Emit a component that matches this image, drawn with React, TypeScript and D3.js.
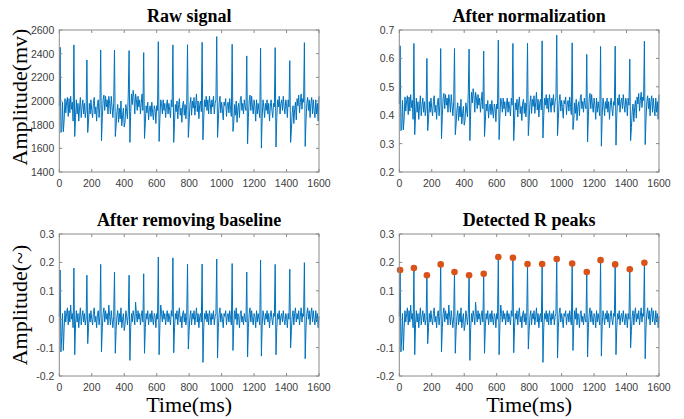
import React from 'react';
import * as d3 from 'd3';

// sample spacing of the traces, ms
const sampleStep = 5;

// raw ECG trace (mv), one value every 5 ms from 0 to 1600
const rawSignal = [
  1960, 2454, 1734, 1750, 1990, 1740, 1840, 2020, 1900, 1990,
  2030, 1870, 2020, 1900, 2040, 1930, 1990, 1830, 2474, 1700,
  1860, 2010, 1890, 1980, 1830, 1950, 2030, 1860, 1950, 2010,
  1890, 1980, 1860, 1920, 2347, 1734, 1830, 1980, 1890, 2010,
  1920, 1860, 1980, 2030, 1890, 1950, 1830, 1980, 2010, 1860,
  1950, 2431, 1664, 1860, 2010, 2050, 1920, 2040, 1950, 2010,
  1890, 2040, 1980, 1890, 2040, 1950, 1860, 1980, 2431, 1700,
  1790, 1910, 1970, 1820, 1940, 1850, 2000, 1790, 1880, 1940,
  1780, 1820, 1970, 1910, 1850, 2060, 2426, 1650, 1910, 2060,
  1970, 2090, 2030, 1890, 2060, 2010, 1920, 2040, 1950, 2010,
  1890, 1980, 2060, 1920, 2409, 1684, 1810, 1960, 1900, 1990,
  1840, 1930, 1960, 1870, 1990, 1900, 1840, 1960, 1930, 1810,
  1960, 1920, 2502, 1658, 1860, 2010, 1980, 1890, 2010, 1920,
  1980, 1860, 1950, 2010, 1890, 1980, 1920, 1860, 2010, 1950,
  2474, 1650, 1820, 1970, 1910, 2000, 1850, 1970, 2020, 1880,
  1940, 1820, 1970, 2000, 1880, 1970, 1850, 1970, 2476, 1692,
  1820, 1970, 2030, 1880, 2000, 1940, 2030, 1880, 1970, 2060,
  1910, 2000, 1850, 1970, 2000, 1910, 2496, 1672, 1860, 2010,
  1950, 2040, 1920, 2010, 1890, 2040, 1980, 1890, 2010, 1950,
  2040, 1890, 1980, 2010, 2544, 1692, 1840, 1990, 2040, 1900,
  1990, 1930, 1840, 1990, 1960, 2020, 1870, 1960, 1990, 1900,
  2020, 1930, 1870, 2479, 1743, 1820, 1970, 1880, 2000, 1820,
  1940, 1980, 1860, 2010, 2040, 1920, 1980, 1890, 2010, 1950,
  1920, 2381, 1639, 1860, 2010, 2050, 1920, 2040, 1950, 1890,
  2010, 1950, 1830, 2010, 1890, 1980, 1920, 1860, 2448, 1602,
  1860, 2010, 1950, 1860, 1980, 1920, 2010, 1890, 1980, 1830,
  1950, 2010, 1920, 1860, 1980, 1950, 2451, 1611, 1860, 2010,
  1950, 2040, 1890, 1980, 2010, 1920, 2040, 1950, 1890, 2010,
  1980, 1860, 2010, 1950, 2341, 1650, 1760, 1900, 1960, 1810,
  1930, 1990, 1840, 2020, 1960, 2050, 1900, 1990, 2060, 1930,
  2020, 1990, 2493, 1616, 1830, 1980, 2030, 1920, 2010, 1860,
  1980, 2030, 1890, 2010, 1920, 1860, 2010, 1890, 1980, 1830,
  2040,
];

// trace after baseline removal, same sampling
const cleanSignal = [
  0.01, 0.173, -0.115, -0.06, 0.02, -0.11, -0.03, 0.03, -0.01, 0.02,
  0.04, -0.02, 0.03, -0.01, 0.05, 0.0, 0.02, -0.03, 0.18, -0.125,
  -0.02, 0.03, -0.01, 0.02, -0.03, 0.01, 0.04, -0.02, 0.01, 0.03,
  -0.01, 0.02, -0.02, 0.0, 0.155, -0.086, -0.03, 0.02, -0.01, 0.03,
  0.0, -0.02, 0.02, 0.04, -0.01, 0.01, -0.03, 0.02, 0.03, -0.02,
  0.01, 0.193, -0.115, -0.03, 0.02, 0.04, -0.01, 0.03, 0.0, 0.02,
  -0.02, 0.05, 0.01, -0.02, 0.03, 0.0, -0.03, 0.01, 0.166, -0.12,
  -0.04, 0.01, 0.03, -0.02, 0.02, -0.01, 0.04, -0.03, 0.0, 0.02,
  -0.04, -0.02, 0.03, 0.01, -0.02, 0.02, 0.155, -0.145, -0.03, 0.02,
  -0.01, 0.03, 0.01, -0.02, 0.06, 0.02, -0.01, 0.03, 0.0, 0.02,
  -0.02, 0.01, 0.03, -0.01, 0.16, -0.12, -0.03, 0.02, 0.0, 0.03,
  -0.02, 0.01, 0.02, -0.01, 0.03, 0.0, -0.02, 0.02, 0.01, -0.03,
  0.02, 0.0, 0.219, -0.125, -0.02, 0.05, 0.02, -0.01, 0.03, 0.0,
  0.02, -0.02, 0.01, 0.03, -0.01, 0.02, 0.0, -0.02, 0.03, 0.01,
  0.216, -0.118, -0.03, 0.02, 0.0, 0.03, -0.02, 0.02, 0.04, -0.01,
  0.01, -0.03, 0.02, 0.03, -0.01, 0.02, -0.02, 0.01, 0.194, -0.105,
  -0.04, 0.01, 0.03, -0.02, 0.02, 0.0, 0.03, -0.02, 0.01, 0.04,
  -0.01, 0.02, -0.03, 0.01, 0.02, -0.01, 0.194, -0.152, -0.03, 0.02,
  0.0, 0.03, -0.01, 0.02, -0.02, 0.03, 0.01, -0.02, 0.02, 0.0,
  0.03, -0.02, 0.01, 0.02, 0.212, -0.136, -0.03, 0.02, 0.04, -0.01,
  0.02, 0.0, -0.03, 0.02, 0.01, 0.03, -0.02, 0.01, 0.02, -0.01,
  0.03, 0.0, -0.02, 0.196, -0.11, -0.02, 0.03, 0.0, 0.04, -0.02,
  0.02, 0.01, -0.03, 0.02, 0.03, -0.01, 0.01, -0.02, 0.02, 0.0,
  -0.01, 0.166, -0.133, -0.03, 0.02, 0.04, -0.01, 0.03, 0.0, -0.02,
  0.02, 0.01, -0.03, 0.03, -0.01, 0.02, 0.0, -0.02, 0.208, -0.13,
  -0.02, 0.03, 0.01, -0.02, 0.02, 0.0, 0.03, -0.01, 0.02, -0.03,
  0.01, 0.03, 0.0, -0.02, 0.02, 0.01, 0.193, -0.125, -0.03, 0.02,
  0.0, 0.03, -0.02, 0.01, 0.02, -0.01, 0.03, 0.0, -0.02, 0.02,
  0.01, -0.03, 0.02, 0.0, 0.176, -0.101, -0.04, 0.01, 0.03, -0.02,
  0.02, 0.04, -0.01, 0.02, 0.0, 0.03, -0.02, 0.01, 0.04, -0.01,
  0.02, 0.01, 0.199, -0.139, -0.03, 0.02, 0.04, 0.0, 0.03, -0.02,
  0.02, 0.04, -0.01, 0.03, 0.0, -0.02, 0.03, -0.01, 0.02, -0.03,
  0.01,
];

// detected R peaks
const peakTimes = [5, 90, 170, 255, 340, 430, 520, 610, 700, 790, 880, 970, 1065, 1155, 1240, 1330, 1420, 1510];
const peakAmps = [0.173, 0.18, 0.155, 0.193, 0.166, 0.155, 0.16, 0.219, 0.216, 0.194, 0.194, 0.212, 0.196, 0.166, 0.208, 0.193, 0.176, 0.199];

// min-max normalisation used for the second panel
const rawMin = 1600;
const normMin = 0.29;
const normGain = 0.000415;
const normSignal = rawSignal.map(v => normMin + (v - rawMin) * normGain);

const timeTicks = [0, 200, 400, 600, 800, 1000, 1200, 1400, 1600];
const rawTicks = [1400, 1600, 1800, 2000, 2200, 2400, 2600];
const normTicks = [0.2, 0.3, 0.4, 0.5, 0.6, 0.7];
const cleanTicks = [-0.2, -0.1, 0, 0.1, 0.2, 0.3];

const lineColor = '#0072BD';
const peakColor = '#D95319';
const boxColor = '#8a8a8a';
const tickText = '#404040';
const sansFont = '"Liberation Sans", Arial, sans-serif';
const serifFont = '"Liberation Serif", "Times New Roman", serif';

type PanelProps = {
  x: number;
  y: number;
  w: number;
  h: number;
  title: string;
  values: number[];
  yTicks: number[];
  peaks?: boolean;
};

const fmt = (v: number) => String(Math.round(v * 10) / 10);

const Panel = ({ x, y, w, h, title, values, yTicks, peaks }: PanelProps) => {
  const xScale = d3.scaleLinear().domain([0, 1600]).range([0, w]);
  const yScale = d3.scaleLinear().domain([yTicks[0], yTicks[yTicks.length - 1]]).range([h, 0]);
  const line = d3.line<number>()
    .x((_, i) => xScale(i * sampleStep))
    .y(v => yScale(v));
  const tl = 3;

  return (
    <g transform={`translate(${x},${y})`}>
      <rect width={w} height={h} fill="#fff" />
      <path d={line(values) || ''} fill="none" stroke={lineColor} strokeWidth={1} />
      {peaks && peakTimes.map((t, i) => (
        <circle key={t} cx={xScale(t)} cy={yScale(peakAmps[i])} r={3.3} fill={peakColor} />
      ))}
      <rect width={w} height={h} fill="none" stroke={boxColor} strokeWidth={1} />
      {timeTicks.map(t => (
        <g key={t}>
          <line x1={xScale(t)} x2={xScale(t)} y1={h} y2={h - tl} stroke={boxColor} />
          <line x1={xScale(t)} x2={xScale(t)} y1={0} y2={tl} stroke={boxColor} />
          <text x={xScale(t)} y={h + 15} textAnchor="middle" fontSize={10.5} fill={tickText} fontFamily={sansFont}>{t}</text>
        </g>
      ))}
      {yTicks.map(v => (
        <g key={v}>
          <line x1={0} x2={tl} y1={yScale(v)} y2={yScale(v)} stroke={boxColor} />
          <line x1={w} x2={w - tl} y1={yScale(v)} y2={yScale(v)} stroke={boxColor} />
          <text x={-5} y={yScale(v) + 4} textAnchor="end" fontSize={10.5} fill={tickText} fontFamily={sansFont}>{fmt(v)}</text>
        </g>
      ))}
      <text x={w / 2} y={-8} textAnchor="middle" fontSize={18} fontWeight="bold" fontFamily={serifFont} fill="#000">{title}</text>
    </g>
  );
};

const App = () => {
  const left = 59.3;
  const right = 399.3;
  const pw = 259.7;
  const top = 30;
  const bottom = 234;
  const ph = 142;

  return (
    <svg width={684} height={419} style={{ position: 'absolute', left: 0, top: 0, background: '#fff' }}>
      <rect width={684} height={419} fill="#fff" />
      <Panel x={left} y={top} w={pw} h={ph} title="Raw signal" values={rawSignal} yTicks={rawTicks} />
      <Panel x={right} y={top} w={pw} h={ph} title="After normalization" values={normSignal} yTicks={normTicks} />
      <Panel x={left} y={bottom} w={pw} h={ph} title="After removing baseline" values={cleanSignal} yTicks={cleanTicks} />
      <Panel x={right} y={bottom} w={pw} h={ph} title="Detected R peaks" values={cleanSignal} yTicks={cleanTicks} peaks />
      <text transform={`translate(27,${top + 67}) rotate(-90)`} textAnchor="middle" fontSize={22} fontFamily={serifFont} fill="#000">Amplitude(mv)</text>
      <text transform={`translate(27,${bottom + 71}) rotate(-90)`} textAnchor="middle" fontSize={22} fontFamily={serifFont} fill="#000">Amplitude(~)</text>
      <text x={left + pw / 2} y={412} textAnchor="middle" fontSize={22} fontFamily={serifFont} fill="#000">Time(ms)</text>
      <text x={right + pw / 2} y={412} textAnchor="middle" fontSize={22} fontFamily={serifFont} fill="#000">Time(ms)</text>
    </svg>
  );
};

export default App;
